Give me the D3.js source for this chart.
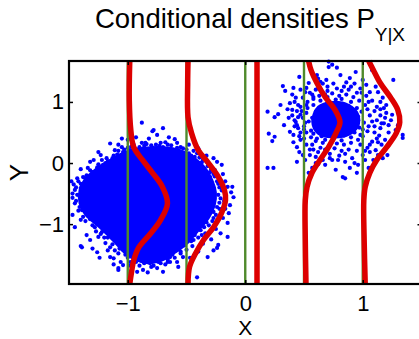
<!DOCTYPE html>
<html>
<head>
<meta charset="utf-8">
<script src="https://cdn.jsdelivr.net/npm/d3@7"></script>
<style>
  html, body { margin: 0; padding: 0; background: #fff; }
  svg { display: block; font-family: "Liberation Sans", Arial, Helvetica, sans-serif; }
</style>
</head>
<body>
<svg id="chart" width="419" height="339"></svg>
<script>
// x positions where the conditional density is drawn
const sliceX = [-1, -0.5, 0, 0.5, 1];
const xTicks = [-1, 0, 1];
const yTicks = [-1, 0, 1];
const xDomain = [-1.5, 1.5];
const yDomain = [-1.98, 1.67];

// [y, density offset in x units]
const densityM1 = [[1.67,0.017],[1.03,0.013],[0.54,0.026],[0.26,0.051],[0.05,0.125],[-0.16,0.21],[-0.39,0.295],[-0.66,0.338],[-0.93,0.28],[-1.15,0.196],[-1.38,0.094],[-1.59,0.051],[-1.80,0.031],[-1.98,0.017]];
const densityM05 = [[1.67,0.013],[1.31,0.01],[0.75,0.013],[0.49,0.043],[0.21,0.10],[0.0,0.187],[-0.23,0.272],[-0.44,0.323],[-0.61,0.332],[-0.82,0.298],[-1.05,0.23],[-1.26,0.145],[-1.48,0.077],[-1.70,0.026],[-1.98,0.013]];
const density0 = [[1.67,0.1],[-1.98,0.1]];
const densityP05 = [[1.67,0.039],[1.52,0.06],[1.31,0.11],[1.08,0.18],[0.87,0.264],[0.67,0.306],[0.49,0.272],[0.26,0.209],[0.05,0.136],[-0.16,0.068],[-0.39,0.026],[-0.61,0.011],[-1.26,0.011],[-1.98,0.017]];
const densityP1 = [[1.67,0.051],[1.52,0.091],[1.31,0.149],[1.08,0.234],[0.87,0.298],[0.67,0.315],[0.49,0.285],[0.26,0.204],[0.05,0.119],[-0.16,0.06],[-0.39,0.021],[-0.61,0.009],[-1.26,0.012],[-1.98,0.021]];
const densities = [densityM1, densityM05, density0, densityP05, densityP1];

// solid (saturated) part of the big cluster
const cluster1Core = [[-0.98,0.21],[-0.81,0.26],[-0.64,0.25],[-0.51,0.18],[-0.41,0.05],[-0.34,-0.08],[-0.28,-0.28],[-0.25,-0.48],[-0.26,-0.69],[-0.31,-0.90],[-0.40,-1.11],[-0.49,-1.31],[-0.59,-1.46],[-0.70,-1.59],[-0.83,-1.64],[-0.95,-1.57],[-1.05,-1.43],[-1.11,-1.30],[-1.23,-1.07],[-1.36,-0.85],[-1.41,-0.66],[-1.41,-0.44],[-1.37,-0.28],[-1.28,-0.11],[-1.15,0.05],[-1.06,0.15]];
const cluster1Points = [[-0.88,0.66],[-0.79,0.52],[-0.75,0.46],[-0.88,0.33],[-0.85,0.33],[-1.08,0.30],[-1.11,0.21],[-1.05,0.26],[-1.23,0.13],[-1.22,0.05],[-1.29,0.05],[-1.34,-0.08],[-1.26,-0.07],[-1.19,0.0],[-1.43,-0.25],[-1.38,-0.23],[-1.45,-0.44],[-1.40,-0.41],[-1.30,-0.15],[-1.15,-0.07],[-1.02,0.16],[-0.98,0.21],[-0.92,0.16],[-0.91,0.21],[-0.83,0.16],[-0.70,0.57],[-0.78,0.54],[-0.60,0.39],[-0.55,0.26],[-0.70,0.26],[-0.79,0.25],[-0.41,0.16],[-0.38,0.13],[-0.24,0.02],[-0.20,-0.03],[-0.26,-0.11],[-0.31,-0.03],[-0.30,-0.23],[-0.21,-0.28],[-0.15,-0.39],[-0.11,-0.39],[-0.10,-0.56],[-0.13,-0.69],[-0.14,-0.82],[-0.15,-0.98],[-0.21,-1.15],[-0.23,-1.34],[-0.24,-1.39],[-0.41,-1.87],[-0.15,-1.21],[-0.27,-1.43],[-0.32,-1.54],[-0.53,-1.54],[-0.58,-1.62],[-0.66,-1.62],[-0.64,-1.62],[-0.72,-1.64],[-0.75,-1.72],[-0.81,-1.64],[-0.44,-1.26],[-0.38,-1.10],[-0.36,-0.98],[-0.41,-0.89],[-1.45,-0.66],[-1.40,-0.93],[-1.39,-0.77],[-1.34,-0.85],[-1.32,-1.26],[-1.26,-1.46],[-1.39,-1.38],[-1.25,-1.21],[-1.22,-1.13],[-1.19,-1.31],[-1.17,-1.43],[-1.15,-1.54],[-1.12,-1.56],[-1.11,-1.43],[-1.06,-1.62],[-0.87,-1.75],[-0.83,-1.79],[-1.08,-1.75],[-1.04,-1.67],[-1.15,-1.05],[-1.47,-0.57],[-1.40,-1.36],[-1.08,-1.72],[-0.64,-1.54],[-0.55,-1.48],
  [-1.00,0.25],[-0.95,0.30],[-0.86,0.28],[-0.76,0.30],[-0.72,0.33],[-0.66,0.30],[-0.62,0.22],[-0.57,0.20],[-0.50,0.22],[-0.46,0.12],[-0.44,0.20],[-0.36,0.05],[-0.33,0.02],[-0.29,-0.10],[-0.27,-0.18],[-0.23,-0.34],[-0.20,-0.45],[-0.21,-0.58],[-0.18,-0.62],[-0.22,-0.75],[-0.25,-0.85],[-0.28,-0.95],[-0.31,-1.02],[-0.34,-1.15],[-0.40,-1.22],[-0.45,-1.36],[-0.50,-1.42],[-0.60,-1.55],[-0.68,-1.66],[-0.78,-1.68],[-0.90,-1.68],[-0.98,-1.62],[-1.00,-1.55],[-1.08,-1.48],[-1.15,-1.38],[-1.20,-1.22],[-1.27,-1.12],[-1.30,-1.02],[-1.36,-0.95],[-1.42,-0.78],[-1.47,-0.50],[-1.46,-0.35],[-1.42,-0.30],[-1.35,-0.20],[-1.32,-0.12],[-1.25,-0.02],[-1.18,0.08],[-1.12,0.12],[-1.08,0.20],
  [-1.03,0.22],[-0.97,0.27],[-0.90,0.26],[-0.84,0.31],[-0.80,0.29],[-0.73,0.28],[-0.68,0.34],[-0.63,0.29],[-0.58,0.25],[-0.53,0.24],[-0.48,0.16],[-0.43,0.10],[-0.39,0.09],[-0.37,0.01],[-0.32,-0.05],[-0.30,-0.15],[-0.26,-0.22],[-0.24,-0.30],[-0.22,-0.40],[-0.23,-0.52],[-0.22,-0.65],[-0.24,-0.72],[-0.27,-0.80],[-0.27,-0.90],[-0.33,-0.97],[-0.35,-1.05],[-0.37,-1.18],[-0.43,-1.18],[-0.46,-1.28],[-0.52,-1.35],[-0.55,-1.45],[-0.62,-1.50],[-0.66,-1.58],[-0.74,-1.62],[-0.80,-1.70],[-0.86,-1.64],[-0.93,-1.62],[-0.98,-1.68],[-1.02,-1.50],[-1.07,-1.40],[-1.13,-1.33],[-1.17,-1.22],[-1.23,-1.16],[-1.28,-1.05],[-1.32,-0.92],[-1.38,-0.88],[-1.41,-0.72],[-1.44,-0.62],[-1.43,-0.52],[-1.44,-0.40],[-1.40,-0.34],[-1.36,-0.25],[-1.30,-0.20],[-1.25,-0.08],[-1.21,-0.03],[-1.17,0.03],[-1.13,0.08],[-1.09,0.14],[-1.04,0.18],
  [-1.00,0.38],[-0.93,0.42],[-0.82,0.40],[-0.65,0.42],[-0.58,0.33],[-0.48,0.30],[-0.40,0.24],[-0.33,0.12],[-0.27,0.08],[-0.19,-0.18],[-0.17,-0.30],[-0.12,-0.48],[-0.17,-0.75],[-0.19,-0.90],[-0.25,-1.08],[-0.29,-1.25],[-0.36,-1.32],[-0.40,-1.45],[-0.47,-1.55],[-0.57,-1.70],[-0.70,-1.78],[-0.92,-1.78],[-1.12,-1.66],[-1.24,-1.55],[-1.30,-1.40],[-1.35,-1.18],[-1.45,-1.05],[-1.47,-0.85],[-1.48,-0.30],[-1.40,-0.10],[-1.32,0.02],[-1.25,0.18],[-1.15,0.32],[-1.05,0.40]];

// densest middle of the small cluster
const cluster2Core = [[0.62,0.92],[0.74,1.00],[0.88,0.95],[0.96,0.80],[0.96,0.60],[0.88,0.46],[0.74,0.42],[0.62,0.48],[0.57,0.68]];
const cluster2Points = [[0.19,0.84],[0.25,0.75],[0.28,0.80],[0.20,0.48],[0.25,0.43],[0.23,0.36],[0.19,-0.08],[0.24,-0.08],[0.32,1.26],[0.46,1.41],[0.41,1.23],[0.34,1.18],[0.43,1.07],[0.38,0.98],[0.37,0.74],[0.38,0.51],[0.41,0.34],[0.41,0.46],[0.44,0.02],[0.46,0.18],[0.55,0.13],[0.57,-0.08],[0.54,-0.16],[0.60,0.0],[0.58,1.44],[0.61,1.44],[0.64,1.33],[0.69,1.36],[0.54,1.31],[0.51,1.16],[0.57,1.12],[0.40,0.87],[0.43,0.67],[0.45,0.57],[0.47,0.38],[0.44,0.26],[0.49,0.13],[0.51,0.05],[0.47,0.79],[0.45,0.95],[0.49,1.07],[0.47,1.20],[0.52,1.23],[0.71,1.57],[0.78,1.56],[0.74,1.61],[1.26,1.36],[1.34,0.46],[1.34,0.41],[1.25,0.79],[1.28,0.54],[1.21,0.13],[1.17,0.08],[1.13,0.13],[1.09,0.05],[1.05,-0.08],[0.96,-0.03],[0.95,-0.16],[0.83,-0.23],[0.85,-0.25],[1.08,1.52],[1.11,1.25],[1.17,1.07],[1.18,0.90],[1.15,1.00],[0.81,1.44],[0.89,1.39],[0.94,1.49],[1.00,1.36],[1.03,1.28],[1.06,1.16],[1.13,1.16],[1.19,0.74],[1.22,0.62],[1.15,0.57],[1.19,0.38],[1.13,0.34],[1.11,0.21],[1.06,0.18],[1.00,0.13],[0.91,0.08],[0.85,0.02],[0.79,0.05],[0.72,0.08],[0.66,0.05],[0.68,-0.03],[0.77,-0.11],[0.89,-0.08],[1.02,0.05],[0.71,1.66],
  [0.50,0.60],[0.52,0.95],[0.60,1.20],[0.70,1.25],[0.78,1.22],[0.90,1.25],[0.95,1.15],[1.05,1.00],[1.10,0.85],[1.12,0.70],[1.10,0.50],[1.08,0.35],[0.98,0.30],[0.95,0.20],[0.85,0.15],[0.72,0.15],[0.62,0.18],[0.57,0.30],[0.50,0.40],[0.47,0.50],[0.45,0.75],[0.48,0.85],[0.58,1.08],[0.66,1.30],[0.75,1.30],[0.86,1.32],[0.98,1.22],[1.15,0.78],[1.18,0.65],[1.14,0.45],[1.04,0.25],[0.80,0.12],[0.60,0.10],[0.55,0.22],[0.42,0.60],[0.40,0.78],
  [0.53,1.00],[0.58,1.05],[0.63,1.10],[0.68,1.12],[0.74,1.14],[0.80,1.10],[0.86,1.12],[0.92,1.08],[0.97,1.02],[1.02,0.95],[1.04,0.88],[1.06,0.78],[1.08,0.68],[1.05,0.60],[1.04,0.52],[1.00,0.44],[0.96,0.38],[0.90,0.33],[0.84,0.30],[0.78,0.32],[0.72,0.30],[0.66,0.33],[0.60,0.36],[0.56,0.42],[0.52,0.50],[0.50,0.55],[0.51,0.66],[0.49,0.74],[0.52,0.82],[0.53,0.90],
  [0.55,1.15],[0.62,1.22],[0.70,1.18],[0.82,1.18],[0.88,1.20],[0.99,1.15],[1.03,1.10],[1.08,1.02],[1.12,0.92],[1.15,0.88],[1.20,0.82],[1.16,0.65],[1.22,0.50],[1.12,0.40],[1.16,0.30],[1.06,0.30],[1.02,0.20],[0.88,0.22],[0.82,0.20],[0.76,0.24],[0.68,0.22],[0.64,0.25],[0.58,0.22],[0.52,0.30],[0.46,0.44],[0.44,0.62],[0.42,0.70],[0.44,0.85],[0.47,0.92],[0.42,1.00],[0.40,1.12],[0.36,0.88],[0.33,0.62],[0.30,0.95],[0.93,1.30],[0.84,1.25],[0.62,1.38],[1.10,0.60],[1.24,0.70],[1.30,0.62],[1.20,0.95],[0.74,0.05],[0.62,-0.02],[0.93,0.00],
  [0.58,0.95],[0.64,1.02],[0.70,0.98],[0.77,1.04],[0.83,0.97],[0.90,1.00],[0.95,0.90],[0.99,0.84],[0.93,0.80],[0.86,0.88],[0.79,0.92],[0.72,0.88],[0.65,0.90],[0.60,0.84],[0.57,0.74],[0.63,0.76],[0.69,0.79],[0.76,0.81],[0.82,0.78],[0.89,0.72],[0.96,0.70],[1.01,0.66],[0.97,0.58],[0.91,0.62],[0.85,0.66],[0.78,0.70],[0.71,0.68],[0.65,0.65],[0.59,0.62],[0.56,0.53],[0.62,0.55],[0.68,0.58],[0.74,0.60],[0.80,0.57],[0.87,0.54],[0.93,0.50],[0.98,0.46],[0.90,0.42],[0.84,0.45],[0.77,0.48],[0.71,0.47],[0.65,0.44],[0.61,0.40],[0.68,0.38],[0.75,0.40],[0.82,0.37],[0.73,0.52],[0.80,0.64],[0.67,0.72],[0.86,0.60],[0.75,0.92],[0.62,0.70],[0.92,0.85],[0.70,1.08],[0.82,1.05],[0.88,0.93],[0.54,0.68],[0.96,0.76],[1.00,0.55],[0.58,0.48]];

const svg = d3.select('#chart');
const x = d3.scaleLinear().domain(xDomain).range([69, 421.5]);
const y = d3.scaleLinear().domain(yDomain).range([284, 61]);

const blue = '#0000ff';
const green = '#4f8a2b';
const red = '#dd0000';

// scatter
const poly = d3.line().x(d => x(d[0])).y(d => y(d[1])).curve(d3.curveCatmullRomClosed);
svg.append('g').selectAll('path')
  .data([cluster1Core, cluster2Core])
  .enter().append('path')
  .attr('d', poly)
  .attr('fill', blue)
  .attr('stroke', blue)
  .attr('stroke-width', 2);

svg.append('g').selectAll('circle')
  .data(cluster1Points.concat(cluster2Points))
  .enter().append('circle')
  .attr('cx', d => x(d[0]))
  .attr('cy', d => y(d[1]))
  .attr('r', 2.1)
  .attr('fill', blue);

// slice lines
svg.append('g').selectAll('line')
  .data(sliceX)
  .enter().append('line')
  .attr('x1', d => x(d)).attr('x2', d => x(d))
  .attr('y1', y(yDomain[0])).attr('y2', y(yDomain[1]))
  .attr('stroke', green)
  .attr('stroke-width', 2.4);

// conditional densities
svg.append('g').selectAll('path')
  .data(densities)
  .enter().append('path')
  .attr('d', (dens, i) => d3.line()
    .x(d => x(sliceX[i] + d[1]))
    .y(d => y(d[0]))
    .curve(d3.curveCatmullRom)(dens))
  .attr('fill', 'none')
  .attr('stroke', red)
  .attr('stroke-width', 5.5);

// axes box with inward ticks
const fmt = d3.format('');
const axB = svg.append('g').attr('transform', `translate(0,${y(yDomain[0])})`)
  .call(d3.axisBottom(x).tickValues(xTicks).tickSize(-4).tickPadding(11).tickFormat(fmt));
const axT = svg.append('g').attr('transform', `translate(0,${y(yDomain[1])})`)
  .call(d3.axisTop(x).tickValues(xTicks).tickSize(-4).tickFormat(''));
const axL = svg.append('g').attr('transform', `translate(${x(xDomain[0])},0)`)
  .call(d3.axisLeft(y).tickValues(yTicks).tickSize(-4).tickPadding(5).tickFormat(fmt));
const axR = svg.append('g').attr('transform', `translate(${x(xDomain[1])},0)`)
  .call(d3.axisRight(y).tickValues(yTicks).tickSize(-4).tickFormat(''));
[axB, axT, axL, axR].forEach(g => {
  g.select('.domain').remove();
  g.selectAll('line').attr('stroke', '#000').attr('stroke-width', 1.5);
  g.selectAll('text').attr('fill', '#000').style('font-size', '22px')
    .style('font-family', '"Liberation Sans", Arial, sans-serif');
});

svg.append('rect')
  .attr('x', x(xDomain[0])).attr('y', y(yDomain[1]))
  .attr('width', x(xDomain[1]) - x(xDomain[0]))
  .attr('height', y(yDomain[0]) - y(yDomain[1]))
  .attr('fill', 'none')
  .attr('stroke', '#000')
  .attr('stroke-width', 2.2);

// labels
const title = svg.append('text')
  .attr('x', 250).attr('y', 28)
  .attr('text-anchor', 'middle')
  .style('font-size', '27.5px');
title.append('tspan').text('Conditional densities P');
title.append('tspan').attr('dy', 13).style('font-size', '19px').text('Y|X');

svg.append('text')
  .attr('x', x(0)).attr('y', 334.5)
  .attr('text-anchor', 'middle')
  .style('font-size', '21px')
  .text('X');

svg.append('text')
  .attr('transform', `translate(28,${(y(yDomain[0]) + y(yDomain[1])) / 2}) rotate(-90)`)
  .attr('text-anchor', 'middle')
  .style('font-size', '26px')
  .text('Y');
</script>
</body>
</html>
